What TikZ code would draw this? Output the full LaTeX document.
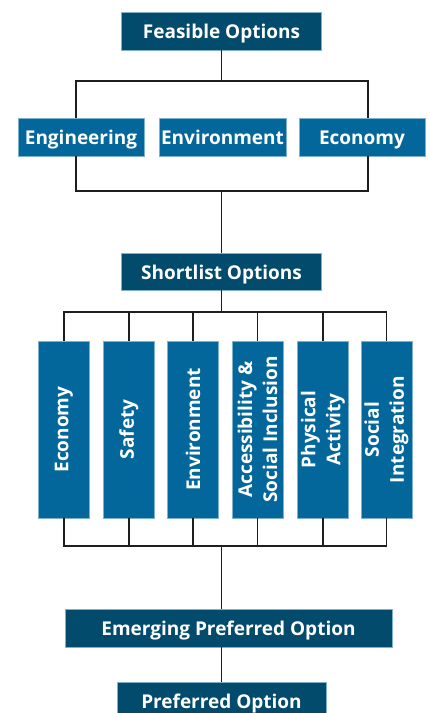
\documentclass[tikz,border=0pt]{standalone}
\usepackage{fontspec}
\setmainfont{Open Sans}
\definecolor{darkbox}{HTML}{024B6D}
\definecolor{lightbox}{HTML}{04679C}
\definecolor{edgeline}{HTML}{7FB0CC}
\definecolor{connline}{HTML}{1E1E1E}
\begin{document}
\begin{tikzpicture}[x=1pt,y=1pt,
  base/.style={rectangle, draw=edgeline, line width=0.5pt, text=white,
    font=\fontsize{19}{25}\selectfont\bfseries, inner sep=0pt, align=center},
  hb/.style={text height=18, text depth=3},
  darkb/.style={base, hb, fill=darkbox},
  lightb/.style={base, fill=lightbox},
  vbox/.style={lightb, rotate=90, minimum width=177, minimum height=51},
  conn/.style={draw=connline, line width=1.5pt}]
\useasboundingbox (0,0) rectangle (430,-713);
\clip (0,0) rectangle (430,-713);
\node[darkb, minimum width=200, minimum height=38] (fo) at (221.5,-31) {Feasible Options};
\node[lightb, hb, minimum width=126, minimum height=38] (eng) at (81,-137) {Engineering};
\node[lightb, hb, minimum width=127, minimum height=38] (env) at (222.5,-137) {Environment};
\node[lightb, hb, minimum width=126, minimum height=38] (eco) at (362,-137) {Economy};
\node[darkb, minimum width=200, minimum height=37] (so) at (221.5,-271.5) {Shortlist Options};
\node[vbox] (v1) at (64,-429.5) {Economy};
\node[vbox] (v2) at (129,-429.5) {Safety};
\node[vbox] (v3) at (193,-429.5) {Environment};
\node[vbox] (v4) at (257.5,-429.5) {Accessibility \&\\Social Inclusion};
\node[vbox] (v5) at (323,-429.5) {Physical\\Activity};
\node[vbox] (v6) at (386.5,-429.5) {Social\\Integration};
\node[darkb, minimum width=327, minimum height=38] (epo) at (228.5,-628) {Emerging Preferred Option};
\node[darkb, minimum width=209, minimum height=38] (po) at (221.5,-701) {Preferred Option};
\coordinate (j1) at (221.5,-81);
\coordinate (j2) at (221.5,-191);
\coordinate (j3) at (221.5,-312);
\coordinate (j4) at (221.5,-546);
\draw[conn] (fo.south) -- (j1);
\draw[conn] ([xshift=-5]eng.north) |- (j1) -| ([xshift=6]eco.north);
\draw[conn] ([xshift=-5]eng.south) |- (j2) -| ([xshift=6]eco.south);
\draw[conn] (j2) -- (so.north);
\draw[conn] (so.south) -- (j3);
\draw[conn] (v1.east) |- (j3) -| (v6.east);
\draw[conn] (v1.west) |- (j4) -| (v6.west);
\foreach \v in {v2,v3,v4,v5}{
  \draw[conn] (\v.east) -- (\v.east |- j3);
  \draw[conn] (\v.west) -- (\v.west |- j4);
}
\draw[conn] (j4) -- (j4 |- epo.north);
\draw[conn] (j4 |- epo.south) -- (po.north);
\end{tikzpicture}
\end{document}
